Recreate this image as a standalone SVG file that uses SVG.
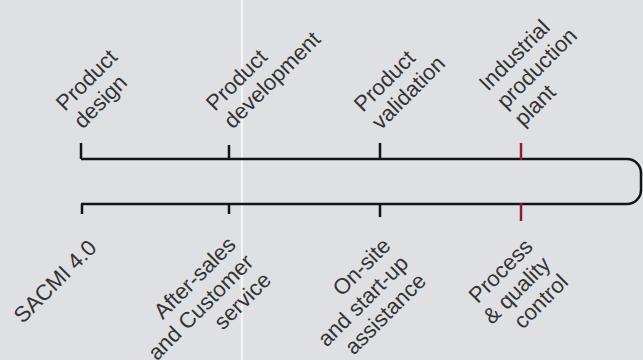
<svg xmlns="http://www.w3.org/2000/svg" width="643" height="360" viewBox="0 0 643 360">
  <style>
    .lbl { font-family: "Liberation Sans", Arial, sans-serif; font-size: 22px; fill: #333; }
    .top { text-anchor: start; }
    .bot { text-anchor: end; }
    .line { fill: none; stroke: #141414; stroke-width: 2.5; }
    .tick { stroke: #141414; stroke-width: 2.5; }
    .red { stroke: #8c1d35; stroke-width: 2.5; }
  </style>
  <rect width="643" height="360" fill="#dfe0e4"/>
  <line x1="242" y1="0" x2="242" y2="360" stroke="#ffffff" stroke-width="1.6" opacity="0.85"/>
  <g id="connectors">
    <path class="line" d="M81,159 H627 A14,14 0 0 1 641,173 V190 A14,14 0 0 1 627,204 H81"/>
    <line class="tick" x1="81" y1="143" x2="81" y2="159"/>
    <line class="tick" x1="229" y1="145" x2="229" y2="159"/>
    <line class="tick" x1="380" y1="143" x2="380" y2="159"/>
    <line class="red" x1="521" y1="143" x2="521" y2="160"/>
    <line class="tick" x1="82" y1="204" x2="82" y2="214"/>
    <line class="tick" x1="229" y1="204" x2="229" y2="214"/>
    <line class="tick" x1="380" y1="204" x2="380" y2="217"/>
    <line class="red" x1="521" y1="203" x2="521" y2="221"/>
  </g>
  <g id="product-design">
    <text class="lbl top" transform="translate(65,112) rotate(-45)"><tspan x="0" y="0">Product</tspan><tspan x="0" y="25">design</tspan></text>
  </g>
  <g id="product-development">
    <text class="lbl top" transform="translate(215,112) rotate(-45)"><tspan x="0" y="0">Product</tspan><tspan x="0" y="25">development</tspan></text>
  </g>
  <g id="product-validation">
    <text class="lbl top" transform="translate(363,113) rotate(-45)"><tspan x="0" y="0">Product</tspan><tspan x="0" y="25">validation</tspan></text>
  </g>
  <g id="industrial-production-plant">
    <text class="lbl top" transform="translate(488,92) rotate(-45)"><tspan x="0" y="0">Industrial</tspan><tspan x="0" y="25">production</tspan><tspan x="0" y="50">plant</tspan></text>
  </g>
  <g id="sacmi-40">
    <text class="lbl bot" transform="translate(98,249) rotate(-45)"><tspan x="0" y="0">SACMI 4.0</tspan></text>
  </g>
  <g id="after-sales">
    <text class="lbl bot" transform="translate(237,246) rotate(-45)"><tspan x="0" y="0">After-sales</tspan><tspan x="0" y="25">and Customer</tspan><tspan x="0" y="50">service</tspan></text>
  </g>
  <g id="on-site">
    <text class="lbl bot" transform="translate(392,247) rotate(-45)"><tspan x="0" y="0">On-site</tspan><tspan x="0" y="25">and start-up</tspan><tspan x="0" y="50">assistance</tspan></text>
  </g>
  <g id="process-quality">
    <text class="lbl bot" transform="translate(534,248) rotate(-45)"><tspan x="0" y="0">Process</tspan><tspan x="0" y="25">&amp; quality</tspan><tspan x="0" y="50">control</tspan></text>
  </g>
</svg>
